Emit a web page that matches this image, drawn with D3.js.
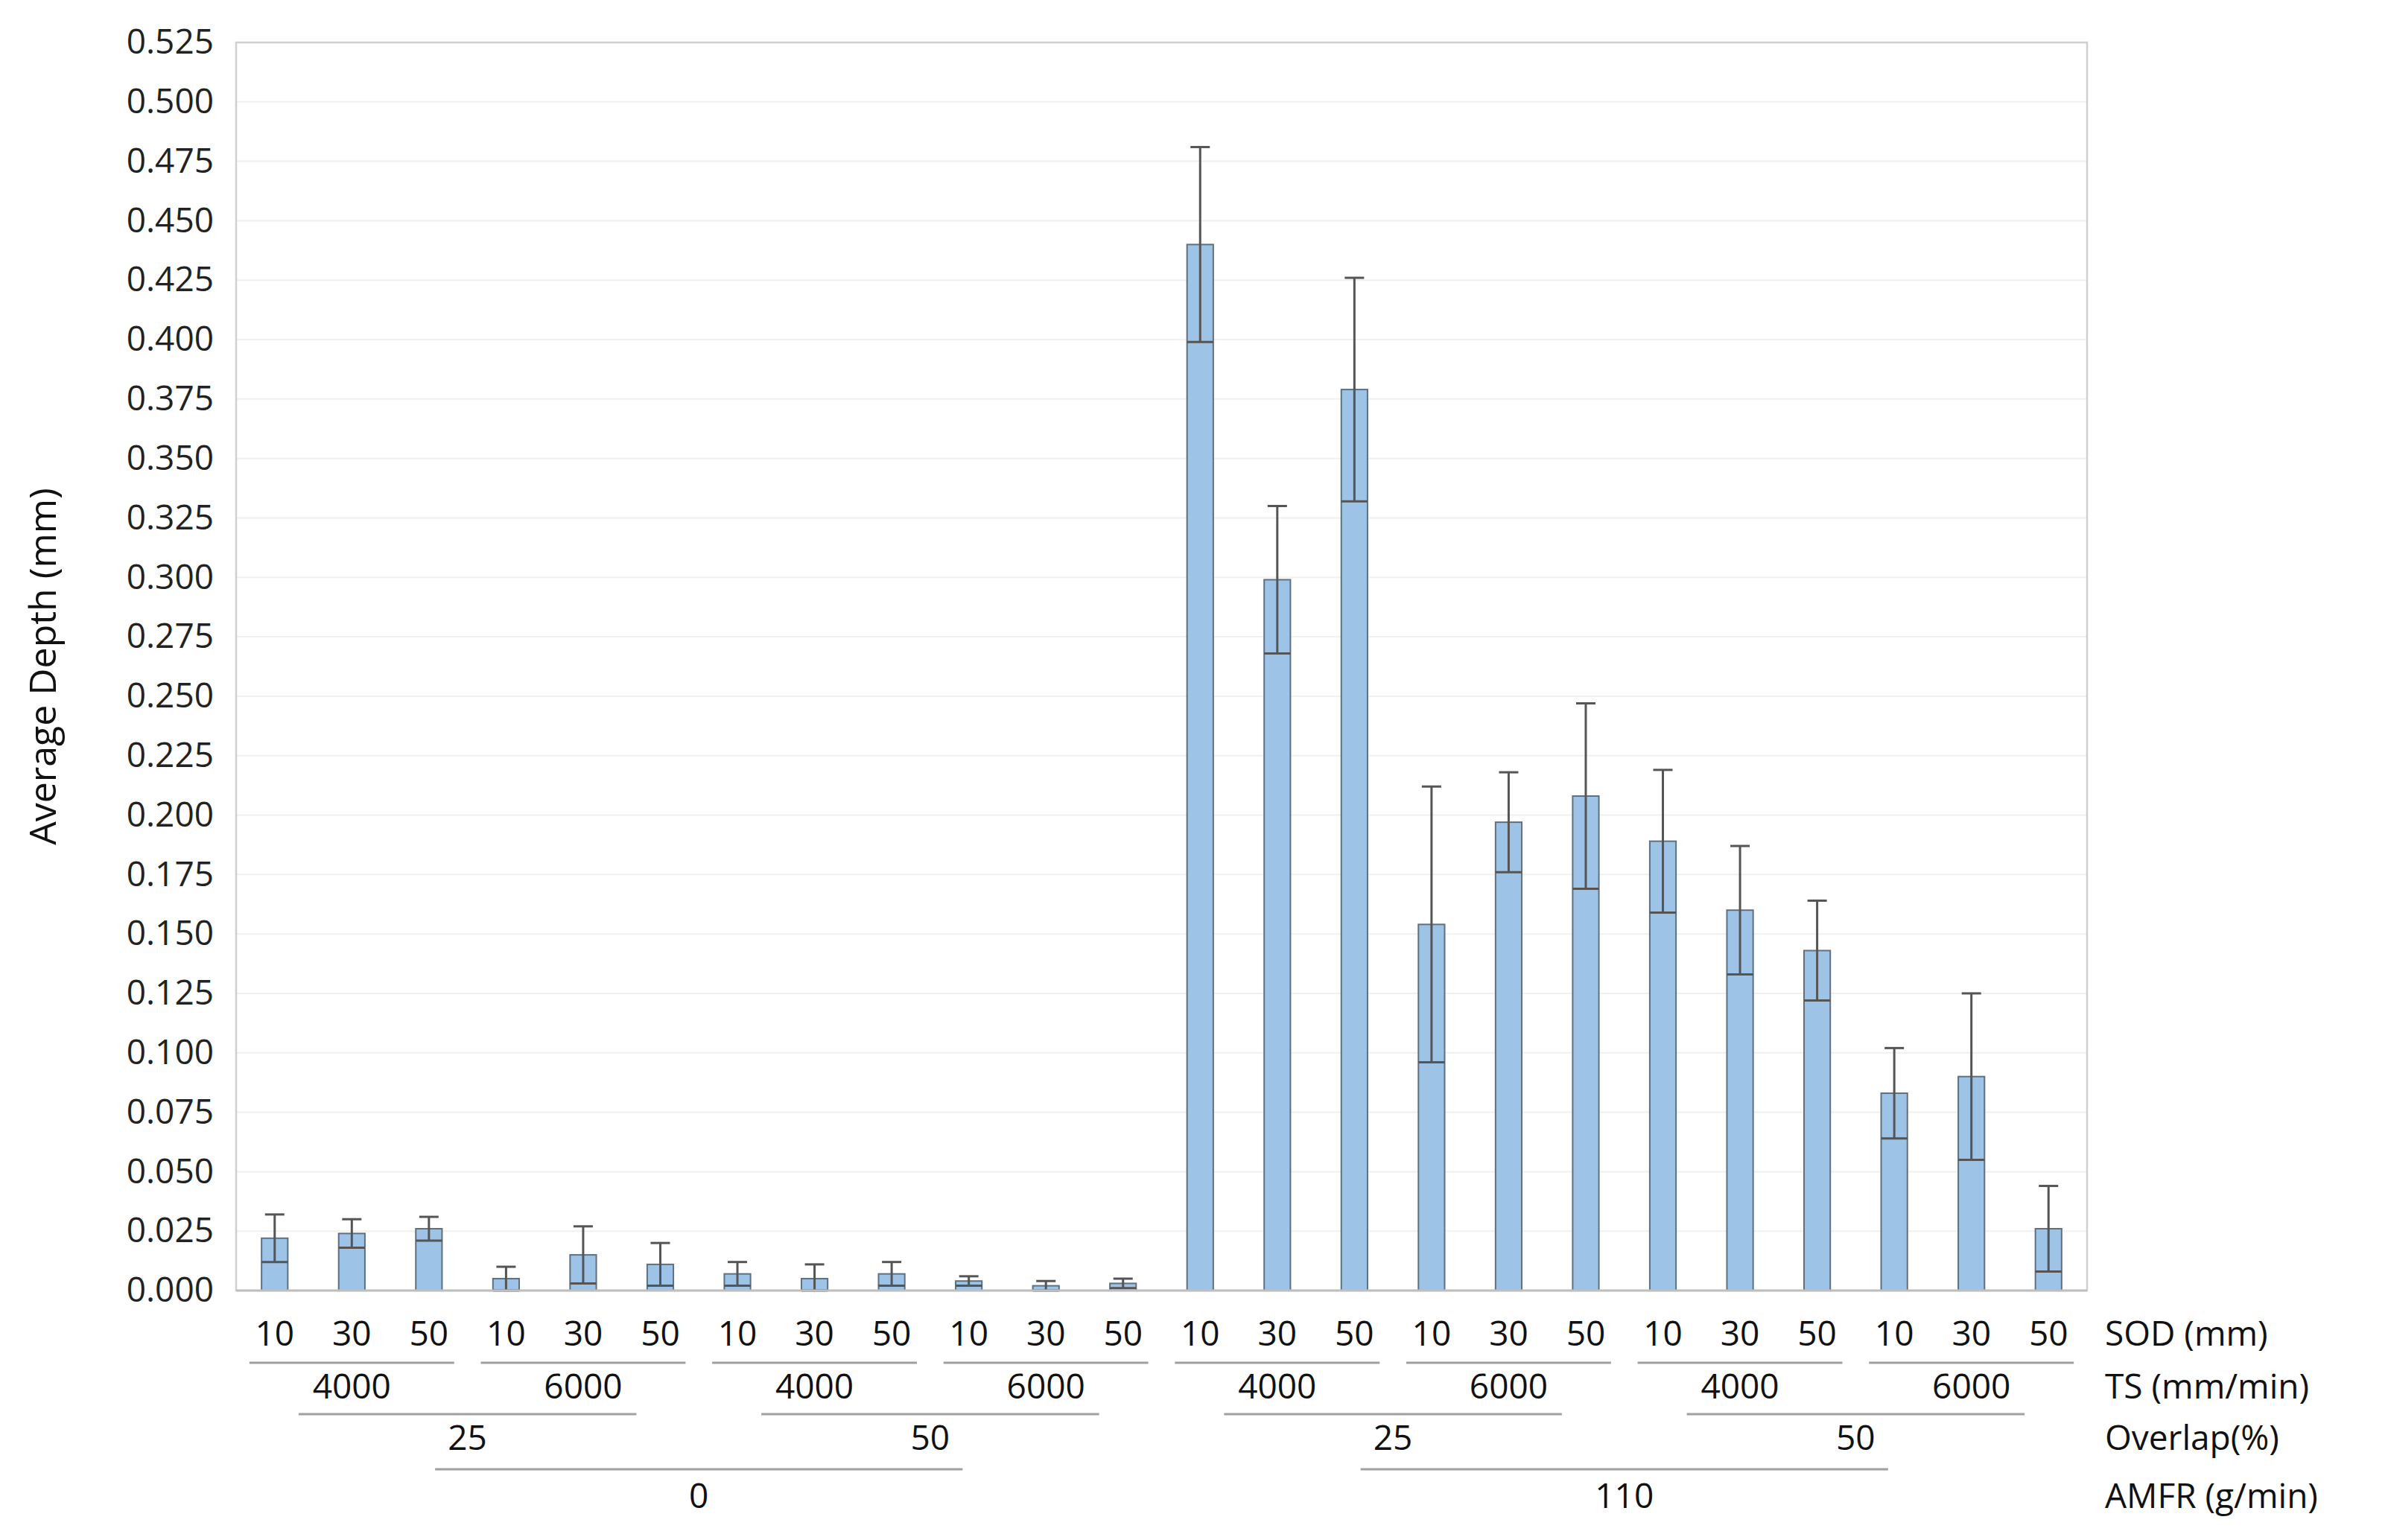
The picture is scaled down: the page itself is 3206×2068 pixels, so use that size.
<!DOCTYPE html>
<html><head><meta charset="utf-8">
<script src="https://cdn.jsdelivr.net/npm/d3@7"></script>
<style>body{margin:0;background:#fff}</style></head>
<body><svg id="c" width="3206" height="2068"></svg>
<script>
const sod = ["10","30","50","10","30","50","10","30","50","10","30","50","10","30","50","10","30","50","10","30","50","10","30","50"];
const ts = ["4000","6000","4000","6000","4000","6000","4000","6000"];
const overlap = ["25","50","25","50"];
const amfr = ["0","110"];
const means = [0.022,0.024,0.026,0.005,0.015,0.011,0.007,0.005,0.007,0.004,0.002,0.003,
  0.440,0.299,0.379,0.154,0.197,0.208,0.189,0.160,0.143,0.083,0.090,0.026];
const errs = [0.010,0.006,0.005,0.005,0.012,0.009,0.005,0.006,0.005,0.002,0.002,0.002,
  0.041,0.031,0.047,0.058,0.021,0.039,0.030,0.027,0.021,0.019,0.035,0.018];
const yTicks = d3.range(0, 0.5251, 0.025);
const rowTitles = ["SOD (mm)","TS (mm/min)","Overlap(%)","AMFR (g/min)"];

const svg = d3.select("#c");
const L=317,R=2802,T=57,B=1733;
const font = "'Open Sans', sans-serif";
const x = d3.scaleBand().domain(d3.range(24)).range([L,R]).paddingInner(0.66).paddingOuter(0.33);
const y = d3.scaleLinear().domain([0,0.525]).range([B,T]);

svg.append("g").selectAll("line").data(yTicks.slice(1)).join("line")
  .attr("x1",L).attr("x2",R).attr("y1",d=>y(d)).attr("y2",d=>y(d))
  .attr("stroke","#f0f0f0").attr("stroke-width",2);
svg.append("rect").attr("x",L).attr("y",T).attr("width",R-L).attr("height",B-T)
  .attr("fill","none").attr("stroke","#d0d0d0").attr("stroke-width",2.5);

const ya = svg.append("g").attr("transform",`translate(${L},0)`)
  .call(d3.axisLeft(y).tickValues(yTicks).tickFormat(d3.format(".3f")).tickSize(0).tickPadding(30));
ya.select(".domain").remove();
ya.selectAll("text").attr("font-family",font).attr("font-size",46).attr("fill","#222");

svg.append("text").attr("transform",`translate(62,${(T+B)/2}) rotate(-90)`)
  .attr("text-anchor","middle").attr("dominant-baseline","middle")
  .attr("font-family",font).attr("font-size",50).attr("fill","#111").text("Average Depth (mm)");

svg.append("g").selectAll("rect").data(means).join("rect")
  .attr("x",(d,i)=>x(i)).attr("width",x.bandwidth())
  .attr("y",d=>y(d)).attr("height",d=>B-y(d))
  .attr("fill","#9dc3e6").attr("stroke","#5f7080").attr("stroke-width",2);

const eb = svg.append("g").attr("stroke","#555").attr("stroke-width",3);
means.forEach((m,i)=>{
  const cx = x(i)+x.bandwidth()/2, hi=y(m+errs[i]), lo=y(Math.max(0,m-errs[i]));
  const hw = 13;
  eb.append("line").attr("x1",cx).attr("x2",cx).attr("y1",hi).attr("y2",lo);
  eb.append("line").attr("x1",cx-hw).attr("x2",cx+hw).attr("y1",hi).attr("y2",hi);
  eb.append("line").attr("x1",cx-x.bandwidth()/2).attr("x2",cx+x.bandwidth()/2).attr("y1",lo).attr("y2",lo);
});

svg.append("line").attr("x1",L).attr("x2",R).attr("y1",B).attr("y2",B).attr("stroke","#bfbfbf").attr("stroke-width",3);

const step = (R-L)/24;
const txt = (g,xx,yy,s,anchor)=>g.append("text").attr("x",xx).attr("y",yy).attr("text-anchor",anchor||"middle")
  .attr("dominant-baseline","middle").attr("font-family",font).attr("font-size",46).attr("fill","#111").text(s);
const lab = svg.append("g");
const rowsY=[1795,1866,1935,2013], linesY=[1830,1899,1973];
sod.forEach((s,i)=>txt(lab,L+step*(i+0.5),rowsY[0],s));
const levels=[ts,overlap,amfr], sizes=[3,6,12], frac=[0.885,0.73,0.57];
levels.forEach((arr,k)=>{
  const w = step*sizes[k];
  arr.forEach((s,j)=>{
    const c = L+w*(j+0.5);
    txt(lab,c,rowsY[k+1],s);
    lab.append("line").attr("x1",c-w*frac[k]/2).attr("x2",c+w*frac[k]/2)
      .attr("y1",linesY[k]).attr("y2",linesY[k]).attr("stroke","#a0a0a0").attr("stroke-width",3);
  });
});
rowTitles.forEach((s,k)=>txt(lab,2826,rowsY[k],s,"start"));
</script></body></html>
